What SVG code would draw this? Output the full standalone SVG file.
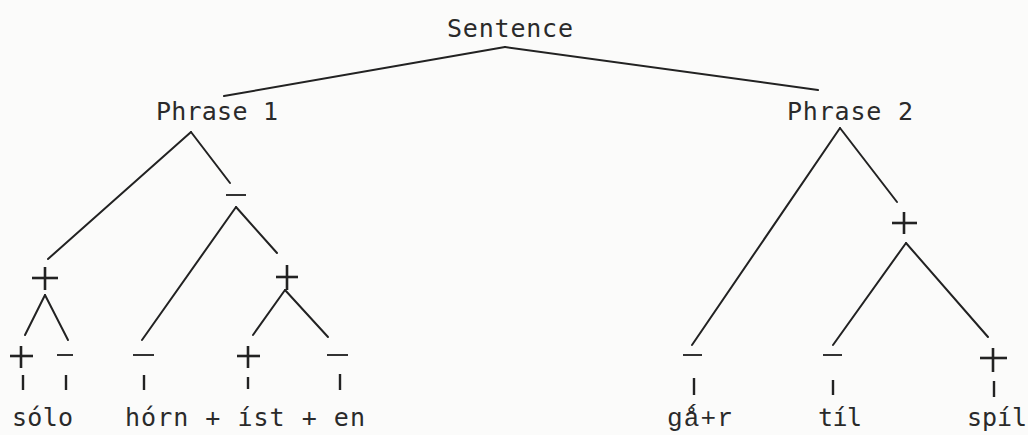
<svg xmlns="http://www.w3.org/2000/svg" width="1028" height="435" viewBox="0 0 1028 435">
<style>
.t{font-family:"DejaVu Sans Mono","Liberation Mono",monospace;font-size:25px;fill:#2a2a2a}
.t2{font-family:"Liberation Mono","DejaVu Sans Mono",monospace;font-size:26px;fill:#2a2a2a}
.e{stroke:#222;stroke-width:2;fill:none;stroke-linecap:round}
.k{stroke:#222;stroke-width:2.4;fill:none}
.s{stroke:#222;stroke-width:2.6;fill:none}
.m{stroke:#333;stroke-width:2;fill:none}
</style>
<rect width="1028" height="435" fill="#fbfbfa"/>
<g id="connectors">
<g class="e">
<line x1="505" y1="47" x2="224" y2="96"/>
<line x1="505" y1="47" x2="818" y2="90"/>
<line x1="191" y1="132" x2="48" y2="259"/>
<line x1="191" y1="132" x2="230" y2="183"/>
<line x1="236" y1="207" x2="142" y2="340"/>
<line x1="236" y1="207" x2="277" y2="253"/>
<line x1="285" y1="290" x2="253" y2="335"/>
<line x1="285" y1="290" x2="328" y2="337"/>
<line x1="45" y1="295" x2="25" y2="335"/>
<line x1="45" y1="295" x2="68" y2="340"/>
<line x1="840" y1="128" x2="692" y2="345"/>
<line x1="840" y1="128" x2="897" y2="202"/>
<line x1="906" y1="243" x2="833" y2="345"/>
<line x1="906" y1="243" x2="988" y2="337"/>
</g>
<g class="k">
<line x1="23" y1="375" x2="23" y2="390"/>
<line x1="66" y1="375" x2="66" y2="390"/>
<line x1="144" y1="375" x2="144" y2="390"/>
<line x1="248" y1="377" x2="248" y2="389"/>
<line x1="340" y1="374" x2="340" y2="390"/>
<line x1="694" y1="378" x2="694" y2="395"/>
<line x1="833" y1="380" x2="833" y2="395"/>
<line x1="994" y1="381" x2="994" y2="397"/>
</g>
</g>
<g id="sentence"><text class="t" x="447" y="37" textLength="126" lengthAdjust="spacing">Sentence</text></g>
<g id="phrase1"><text class="t" x="156" y="120" textLength="122" lengthAdjust="spacing">Phrase 1</text></g>
<g id="phrase2"><text class="t" x="787" y="120" textLength="126" lengthAdjust="spacing">Phrase 2</text></g>
<g id="n-minus-p1" class="m"><line x1="226" y1="195" x2="246" y2="195"/></g>
<g id="n-plus-solo" class="s"><line x1="32" y1="278" x2="58" y2="278"/><line x1="45" y1="267" x2="45" y2="290"/></g>
<g id="n-plus-ist-en" class="s"><line x1="276" y1="277" x2="298" y2="277"/><line x1="287" y1="265" x2="287" y2="290"/></g>
<g id="n-plus-p2" class="s"><line x1="892" y1="223" x2="917" y2="223"/><line x1="904" y1="212" x2="904" y2="234"/></g>
<g id="leaf-so" class="s"><line x1="10" y1="356" x2="33" y2="356"/><line x1="21" y1="346" x2="21" y2="368"/></g>
<g id="leaf-lo" class="m"><line x1="57" y1="355" x2="73" y2="355"/></g>
<g id="leaf-horn" class="m"><line x1="133" y1="355" x2="154" y2="355"/></g>
<g id="leaf-ist" class="s"><line x1="237" y1="356" x2="260" y2="356"/><line x1="248" y1="346" x2="248" y2="368"/></g>
<g id="leaf-en" class="m"><line x1="327" y1="355" x2="348" y2="355"/></g>
<g id="leaf-gar" class="m"><line x1="683" y1="355" x2="702" y2="355"/></g>
<g id="leaf-til" class="m"><line x1="823" y1="355" x2="842" y2="355"/></g>
<g id="leaf-spil" class="s"><line x1="980" y1="358" x2="1007" y2="358"/><line x1="993" y1="348" x2="993" y2="372"/></g>
<g id="word-solo"><text class="t" x="12" y="426" textLength="61" lengthAdjust="spacing">sólo</text></g>
<g id="word-hornisten"><text class="t" x="125" y="426" textLength="240" lengthAdjust="spacing">hórn + íst + en</text></g>
<g id="word-gar"><text class="t2" x="667" y="426" textLength="66" lengthAdjust="spacing">gǻ+r</text></g>
<g id="word-til"><text class="t" x="818" y="426" textLength="44" lengthAdjust="spacing">tíl</text></g>
<g id="word-spil"><text class="t" x="967" y="426" textLength="60" lengthAdjust="spacing">spíl</text></g>
</svg>
